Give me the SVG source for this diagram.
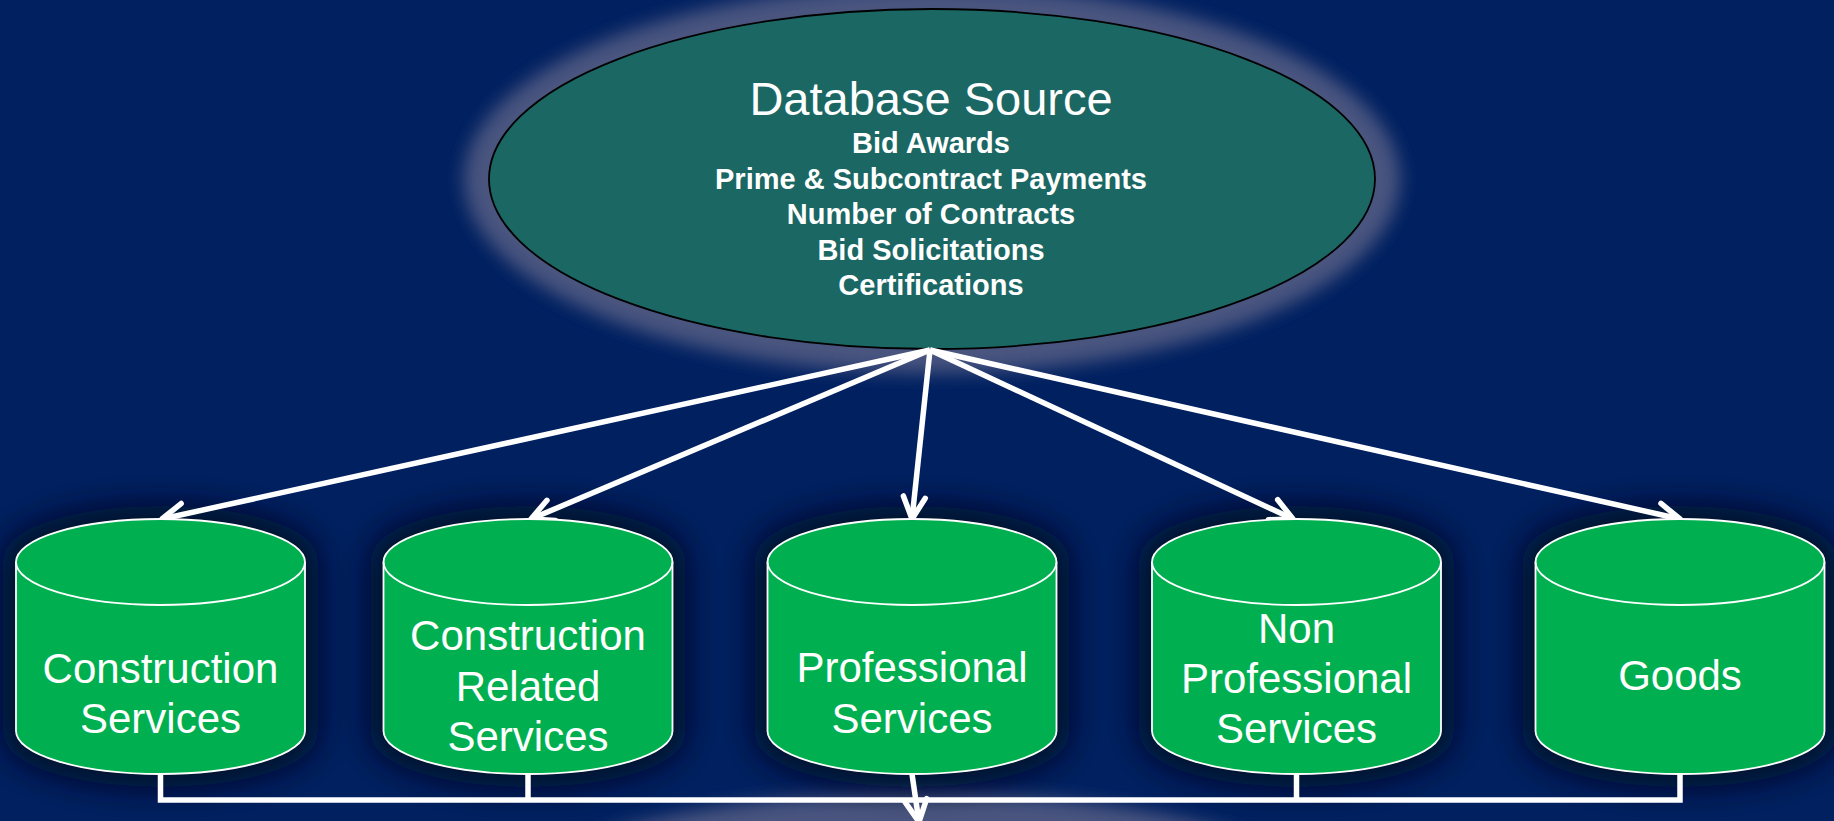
<svg xmlns="http://www.w3.org/2000/svg" width="1834" height="821" viewBox="0 0 1834 821">
  <defs>
    <filter id="blurGlow" x="-20%" y="-20%" width="140%" height="140%">
      <feGaussianBlur stdDeviation="9"/>
    </filter>
    <filter id="blurShadow" x="-30%" y="-30%" width="160%" height="160%">
      <feGaussianBlur stdDeviation="16"/>
    </filter>
    <marker id="arrowV" viewBox="-30 -20 40 40" refX="0" refY="0" markerWidth="40" markerHeight="40" markerUnits="userSpaceOnUse" orient="auto" overflow="visible">
      <path d="M-22,-11 L0,0 L-22,11" fill="none" stroke="#ffffff" stroke-width="5.5" stroke-linecap="round" stroke-linejoin="round"/>
    </marker>
    <path id="cylShape" d="M-144.5,0 A144.5,43 0 0 1 144.5,0 L144.5,169 A144.5,43 0 0 1 -144.5,169 Z"/>
  </defs>
  <style>
    .bg { fill: #002060; }
    .glow { fill: #48547f; }
    .src { fill: #1b6764; stroke: #000000; stroke-width: 1.8; }
    .cyl { fill: #00b050; stroke: #ffffff; stroke-width: 1.8; }
    .cylArc { fill: none; stroke: #ffffff; stroke-width: 1.8; }
    .shadow { fill: #000a22; stroke: #000a22; stroke-width: 26; opacity: 0.95; }
    .conn { fill: none; stroke: #ffffff; stroke-width: 5.5; }
    .title { font-family: "Liberation Sans", Arial, sans-serif; font-size: 47px; fill: #ffffff; text-anchor: middle; }
    .item { font-family: "Liberation Sans", Arial, sans-serif; font-size: 29px; font-weight: bold; fill: #ffffff; text-anchor: middle; }
    .lbl { font-family: "Liberation Sans", Arial, sans-serif; font-size: 42px; fill: #ffffff; text-anchor: middle; }
  </style>

  <rect class="bg" x="0" y="0" width="1834" height="821"/>

  <!-- glow of a shape below the visible area -->
  <ellipse class="glow" cx="920" cy="905" rx="410" ry="112" filter="url(#blurGlow)"/>

  <!-- Database source node -->
  <g id="database-source">
    <ellipse class="glow" cx="932" cy="179" rx="468" ry="194" filter="url(#blurGlow)"/>
    <ellipse class="src" cx="932" cy="179" rx="443" ry="170"/>
    <text class="title" x="931" y="115">Database Source</text>
    <text class="item" x="931" y="153">Bid Awards</text>
    <text class="item" x="931" y="188.5">Prime &amp; Subcontract Payments</text>
    <text class="item" x="931" y="224">Number of Contracts</text>
    <text class="item" x="931" y="259.5">Bid Solicitations</text>
    <text class="item" x="931" y="295">Certifications</text>
  </g>

  <!-- cylinder shadows -->
  <g id="shadows" filter="url(#blurShadow)">
    <use href="#cylShape" class="shadow" transform="translate(160.5,562)"/>
    <use href="#cylShape" class="shadow" transform="translate(528,562)"/>
    <use href="#cylShape" class="shadow" transform="translate(912,562)"/>
    <use href="#cylShape" class="shadow" transform="translate(1296.5,562)"/>
    <use href="#cylShape" class="shadow" transform="translate(1680,562)"/>
  </g>

  <!-- Connectors -->
  <g id="connectors">
    <line class="conn" x1="930" y1="350" x2="162" y2="519" marker-end="url(#arrowV)"/>
    <line class="conn" x1="930" y1="350" x2="531" y2="519" marker-end="url(#arrowV)"/>
    <line class="conn" x1="930" y1="350" x2="912" y2="519" marker-end="url(#arrowV)"/>
    <line class="conn" x1="930" y1="350" x2="1293" y2="519" marker-end="url(#arrowV)"/>
    <line class="conn" x1="930" y1="350" x2="1680" y2="519" marker-end="url(#arrowV)"/>
    <polyline class="conn" points="160.5,774 160.5,800 1680,800 1680,774"/>
    <line class="conn" x1="528" y1="774" x2="528" y2="800"/>
    <line class="conn" x1="1296.5" y1="774" x2="1296.5" y2="800"/>
    <line class="conn" x1="912" y1="774" x2="919" y2="822" marker-end="url(#arrowV)"/>
  </g>

  <g id="construction-services" transform="translate(160.5,562)">
    <use href="#cylShape" class="cyl"/>
    <path class="cylArc" d="M-144.5,0 A144.5,43 0 0 0 144.5,0"/>
    <text class="lbl" x="0" y="121">Construction</text>
    <text class="lbl" x="0" y="171">Services</text>
  </g>

  <g id="construction-related-services" transform="translate(528,562)">
    <use href="#cylShape" class="cyl"/>
    <path class="cylArc" d="M-144.5,0 A144.5,43 0 0 0 144.5,0"/>
    <text class="lbl" x="0" y="88">Construction</text>
    <text class="lbl" x="0" y="138.5">Related</text>
    <text class="lbl" x="0" y="189">Services</text>
  </g>

  <g id="professional-services" transform="translate(912,562)">
    <use href="#cylShape" class="cyl"/>
    <path class="cylArc" d="M-144.5,0 A144.5,43 0 0 0 144.5,0"/>
    <text class="lbl" x="0" y="120">Professional</text>
    <text class="lbl" x="0" y="171">Services</text>
  </g>

  <g id="non-professional-services" transform="translate(1296.5,562)">
    <use href="#cylShape" class="cyl"/>
    <path class="cylArc" d="M-144.5,0 A144.5,43 0 0 0 144.5,0"/>
    <text class="lbl" x="0" y="81">Non</text>
    <text class="lbl" x="0" y="131">Professional</text>
    <text class="lbl" x="0" y="181">Services</text>
  </g>

  <g id="goods" transform="translate(1680,562)">
    <use href="#cylShape" class="cyl"/>
    <path class="cylArc" d="M-144.5,0 A144.5,43 0 0 0 144.5,0"/>
    <text class="lbl" x="0" y="128">Goods</text>
  </g>
</svg>
